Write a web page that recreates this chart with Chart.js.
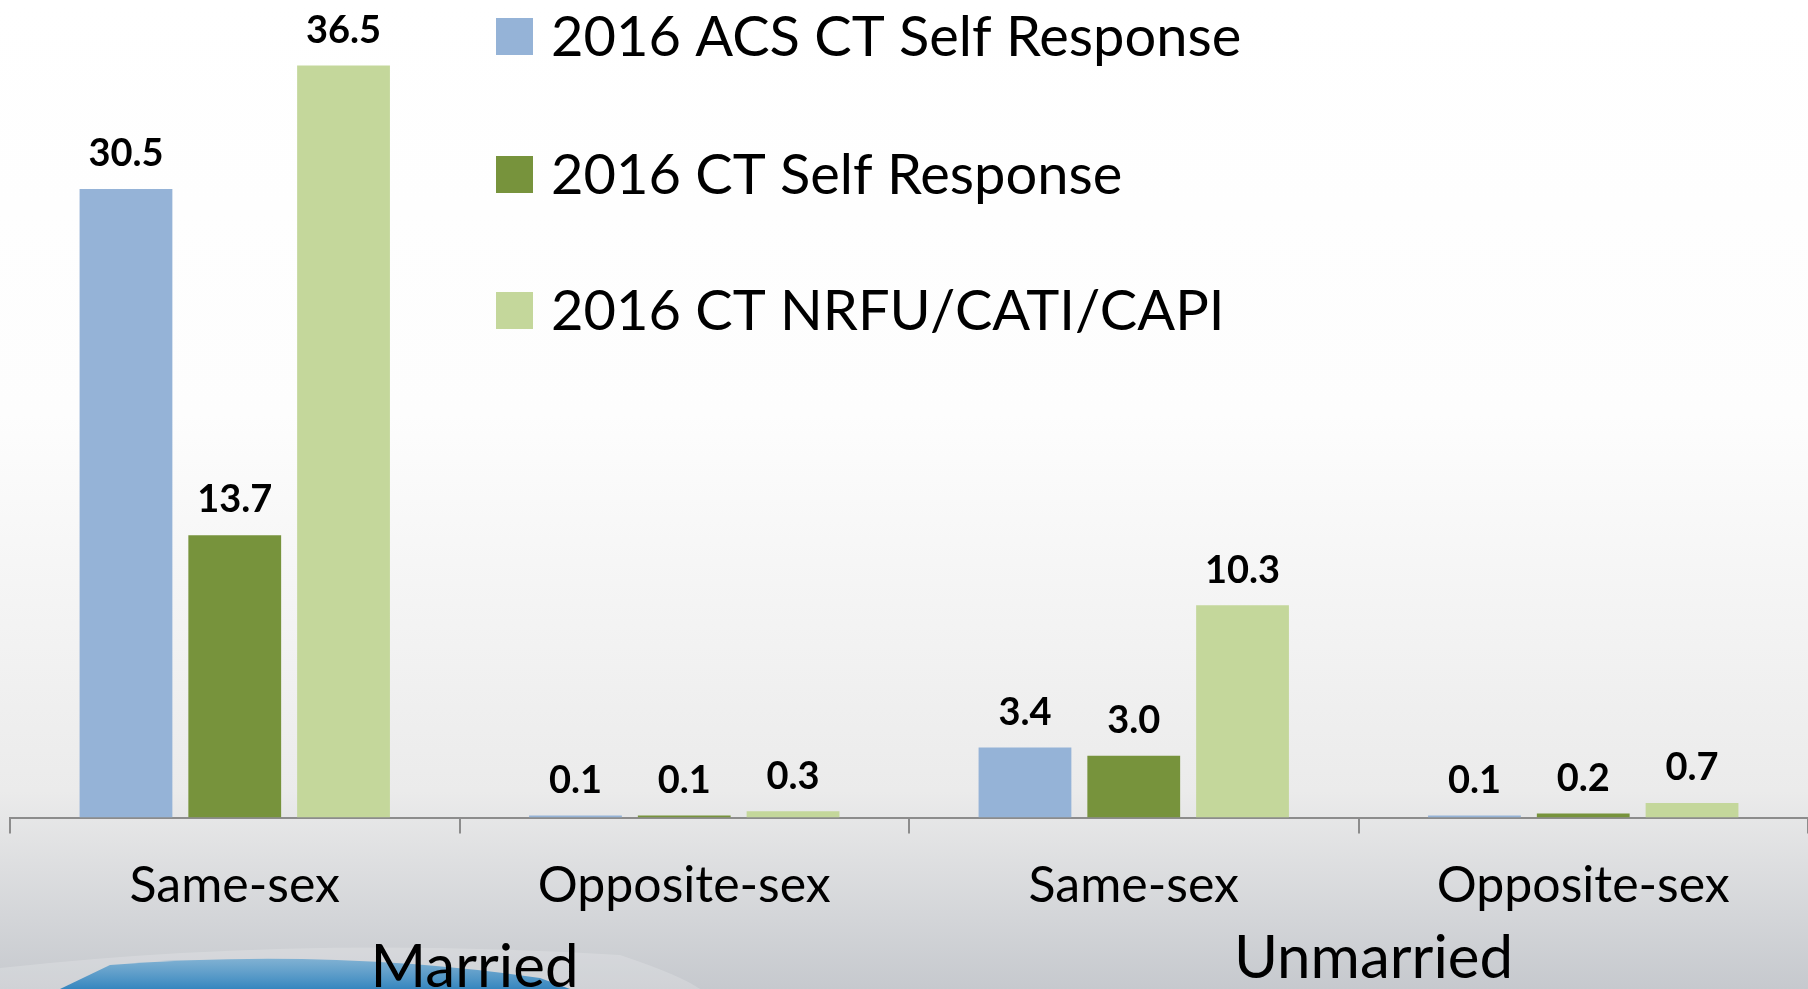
<!DOCTYPE html>
<html lang="en">
<head>
  <meta charset="UTF-8" />
  <title>CT Couples Response</title>
  <script src="https://cdn.jsdelivr.net/npm/chart.js"></script>
  <style>
    html, body {
      margin: 0;
      padding: 0;
      background: #ffffff;
      overflow: hidden;
    }
    #wrap {
      width: 1808px;
      height: 989px;
    }
  </style>
</head>
<body>
  <div id="wrap"><canvas id="chart" width="1808" height="989"></canvas></div>

  <script>
    const categories = ['Same-sex', 'Opposite-sex', 'Same-sex', 'Opposite-sex'];
    const groups = ['Married', 'Unmarried'];
    const seriesNames = ['2016 ACS CT Self Response', '2016 CT Self Response', '2016 CT NRFU/CATI/CAPI'];
    const acsSelf = [30.5, 0.1, 3.4, 0.1];
    const ctSelf = [13.7, 0.1, 3.0, 0.2];
    const ctNrfu = [36.5, 0.3, 10.3, 0.7];
    const colors = ['#95b3d7', '#77933c', '#c4d79b'];

    const FONT = 'Lato, "Open Sans", sans-serif';

    // slide style background with the blue swoosh at the bottom left
    const backdrop = {
      id: 'backdrop',
      beforeDraw(chart) {
        const ctx = chart.ctx;
        const w = chart.width, h = chart.height;
        ctx.save();
        const g = ctx.createLinearGradient(0, 0, 0, h);
        g.addColorStop(0, '#ffffff');
        g.addColorStop(0.42, '#fdfdfd');
        g.addColorStop(0.8, '#ebebeb');
        g.addColorStop(1, '#c6c9ce');
        ctx.fillStyle = g;
        ctx.fillRect(0, 0, w, h);

        ctx.fillStyle = 'rgba(255,255,255,0.18)';
        ctx.beginPath();
        ctx.moveTo(0, 968);
        ctx.quadraticCurveTo(300, 935, 620, 955);
        ctx.quadraticCurveTo(680, 975, 700, h);
        ctx.lineTo(0, h);
        ctx.closePath();
        ctx.fill();

        const b = ctx.createLinearGradient(0, 955, 0, h);
        b.addColorStop(0, 'rgba(110,170,210,0.75)');
        b.addColorStop(1, 'rgba(45,130,190,0.95)');
        ctx.fillStyle = b;
        ctx.beginPath();
        ctx.moveTo(60, h);
        ctx.lineTo(110, 965);
        ctx.quadraticCurveTo(330, 948, 540, 978);
        ctx.lineTo(570, h);
        ctx.closePath();
        ctx.fill();
        ctx.restore();
      }
    };

    // values above the bars
    const barValues = {
      id: 'barValues',
      afterDatasetsDraw(chart) {
        const ctx = chart.ctx;
        ctx.save();
        ctx.font = 'bold 38px ' + FONT;
        ctx.fillStyle = '#000';
        ctx.textAlign = 'center';
        ctx.textBaseline = 'middle';
        chart.data.datasets.forEach((ds, i) => {
          chart.getDatasetMeta(i).data.forEach((bar, j) => {
            ctx.fillText(ds.data[j].toFixed(1), bar.x, bar.y - 35);
          });
        });
        ctx.restore();
      }
    };

    // legend floating over the plot + group labels under the axis
    const extras = {
      id: 'extras',
      afterDraw(chart) {
        const ctx = chart.ctx;
        ctx.save();
        const rows = [36, 174, 310];
        ctx.textBaseline = 'middle';
        ctx.textAlign = 'left';
        ctx.font = '56px ' + FONT;
        chart.data.datasets.forEach((ds, i) => {
          ctx.fillStyle = ds.backgroundColor;
          ctx.fillRect(496, rows[i] - 18, 37, 37);
          ctx.fillStyle = '#000';
          ctx.fillText(ds.label, 551, rows[i] + 2);
        });

        const x = chart.scales.x;
        ctx.font = '60px ' + FONT;
        ctx.textAlign = 'center';
        ctx.textBaseline = 'alphabetic';
        const base = [987, 978];
        groups.forEach((name, k) => {
          const cx = (x.getPixelForValue(k * 2) + x.getPixelForValue(k * 2 + 1)) / 2;
          ctx.fillText(name, cx + 15, base[k]);
        });
        ctx.restore();
      }
    };

    new Chart(document.getElementById('chart'), {
      type: 'bar',
      data: {
        labels: categories,
        datasets: [
          { label: seriesNames[0], data: acsSelf, backgroundColor: colors[0] },
          { label: seriesNames[1], data: ctSelf, backgroundColor: colors[1] },
          { label: seriesNames[2], data: ctNrfu, backgroundColor: colors[2] }
        ]
      },
      options: {
        responsive: false,
        animation: false,
        layout: { padding: { top: 14, left: 10, right: 0, bottom: 0 } },
        datasets: {
          bar: { categoryPercentage: 0.726, barPercentage: 0.853 }
        },
        plugins: {
          legend: { display: false },
          tooltip: { enabled: false }
        },
        scales: {
          y: { display: false, min: 0, max: 39 },
          x: {
            afterFit(scale) { scale.height = 171.5; },
            border: { color: '#8c8c8c', width: 2 },
            grid: {
              drawOnChartArea: false,
              color: '#8c8c8c',
              lineWidth: 2,
              tickLength: 16
            },
            ticks: {
              color: '#000',
              padding: 22,
              font: { family: FONT, size: 50 }
            }
          }
        }
      },
      plugins: [backdrop, barValues, extras]
    });
  </script>
</body>
</html>
